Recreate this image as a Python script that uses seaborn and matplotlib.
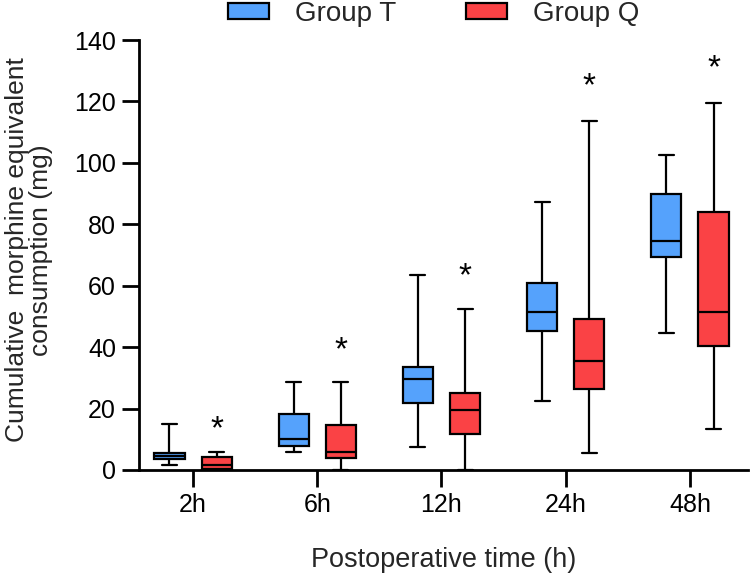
import matplotlib
matplotlib.use("Agg")
import matplotlib.pyplot as plt
import seaborn as sns
import pandas as pd

# ---- data (five-number summaries: min, Q1, median, Q3, max) ----
times = ["2h", "6h", "12h", "24h", "48h"]
groups = ["Group T", "Group Q"]
group_t = [
    [1.5, 3.6, 4.7, 5.6, 15.0],
    [5.8, 7.9, 10.1, 18.2, 28.5],
    [7.5, 21.7, 29.6, 33.6, 63.5],
    [22.6, 45.3, 51.6, 60.8, 87.4],
    [44.6, 69.4, 74.7, 89.9, 102.5],
]
group_q = [
    [0.0, 0.4, 1.5, 4.3, 5.7],
    [0.0, 4.0, 5.8, 14.6, 28.5],
    [0.0, 11.8, 19.5, 25.2, 52.5],
    [5.4, 26.3, 35.6, 49.2, 113.6],
    [13.5, 40.4, 51.6, 84.0, 119.6],
]
star_y = [16.5, 42.3, 66.2, 128.0, 134.0]
y_ticks = [0, 20, 40, 60, 80, 100, 120, 140]

rows = []
for t, vt, vq in zip(times, group_t, group_q):
    for v in vt:
        rows.append((t, groups[0], v))
    for v in vq:
        rows.append((t, groups[1], v))
df = pd.DataFrame(rows, columns=["time", "group", "value"])

sns.set_theme(style="ticks")
plt.rcParams["font.family"] = ["Liberation Sans", "DejaVu Sans"]

fig = plt.figure(figsize=(7.5, 5.8), dpi=100)
ax = fig.add_axes([0.1853, 0.1897, 0.812, 0.7413])

palette = {"Group T": "#55A2FC", "Group Q": "#FA4245"}
sns.boxplot(data=df, x="time", y="value", hue="group", order=times,
            hue_order=groups, palette=palette, width=0.76, gap=0.36,
            whis=(0, 100), linecolor="black", linewidth=1.6,
            saturation=1, ax=ax)

for i, y in enumerate(star_y):
    ax.annotate("*", xy=(i + 0.19, y), xytext=(0, -13.5), textcoords="offset points",
                ha="center", va="baseline", fontsize=24, color="black")

ax.set_xlim(-0.435, 4.467)
ax.set_ylim(0, 140)
ax.set_yticks(y_ticks)
ax.set_xlabel("Postoperative time (h)", fontsize=19.5)
ax.set_ylabel("Cumulative  morphine equivalent\nconsumption (mg)", fontsize=19,
              linespacing=1.0)
ax.yaxis.set_label_coords(-0.141, 0.512)
ax.xaxis.set_label_coords(0.5, -0.18)
ax.tick_params(axis="both", labelsize=18, width=2, length=12.5, color="black",
               labelcolor="black", pad=4)
for s in ["top", "right"]:
    ax.spines[s].set_visible(False)
for s in ["left", "bottom"]:
    ax.spines[s].set_linewidth(2)
    ax.spines[s].set_color("black")

sns.move_legend(ax, "center", bbox_to_anchor=(0.578, 0.976),
                bbox_transform=fig.transFigure, ncol=2, frameon=False, title=None,
                fontsize=20, handlelength=1.48, handleheight=0.5,
                handletextpad=0.94, columnspacing=2.5)

fig.savefig("out.png", dpi=100)
